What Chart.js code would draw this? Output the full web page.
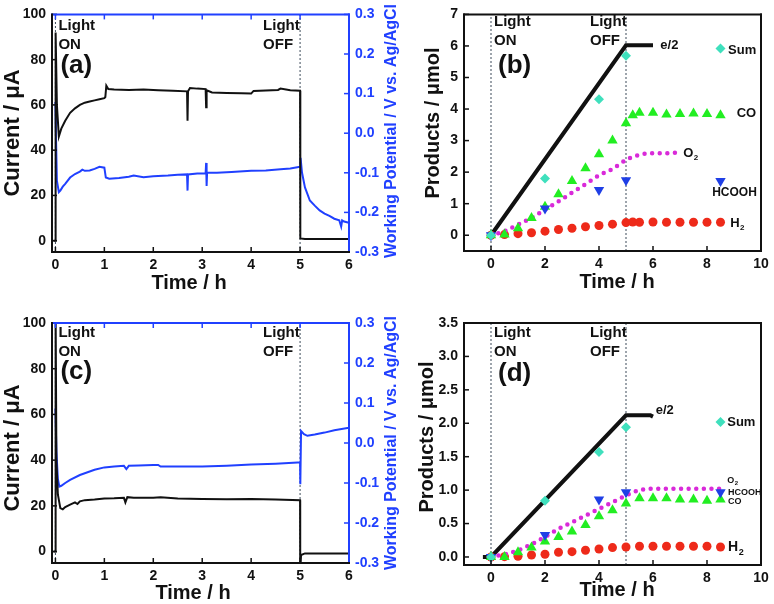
<!DOCTYPE html>
<html lang="en">
<head>
<meta charset="UTF-8">
<title>Photoelectrolysis current and products</title>
<script src="https://cdn.jsdelivr.net/npm/chart.js"></script>
<style>
    body { margin: 0; background: #fff; }
    #wrap { position: relative; width: 774px; height: 604px; overflow: hidden; }
    canvas { position: absolute; }
</style>
</head>
<body>
<div id="wrap">
    <canvas id="pa" width="404" height="300" style="left:0;top:0"></canvas>
    <canvas id="pc" width="404" height="304" style="left:0;top:300px"></canvas>
    <canvas id="pb" width="384" height="300" style="left:390px;top:0"></canvas>
    <canvas id="pd" width="384" height="304" style="left:390px;top:300px"></canvas>
</div>
<script>
// light switched on at 0 h, off at 5 h
const lightTimes = [0, 5];

// (a) current (uA) and working potential (V vs Ag/AgCl)
const timeCurA = [-0.04, 0, 0.004, 0.03, 0.07, 0.12, 0.2, 0.3, 0.4, 0.5, 0.6, 0.7, 0.8, 0.9, 1.0, 1.02, 1.04, 1.08, 1.2, 1.5,
    1.8, 2.1, 2.4, 2.69, 2.7, 2.71, 2.75, 2.9, 3.07, 3.08, 3.09, 3.2, 3.5, 3.8, 4.0, 4.05, 4.3, 4.55, 4.6, 4.8, 5.0, 5.005, 5.1, 5.5, 6.0];
const currentA = [0, 0, 92, 60, 46, 49.5, 53, 56.5, 58.5, 60, 61, 61.5, 62, 62.5, 63, 63.5, 68.5, 67, 66.8, 66.6,
    66.8, 66.5, 66.3, 66, 53, 66, 67.5, 67.2, 67, 59, 66.5, 65.5, 65.3, 65.2, 65, 66.2, 66.4, 66.6, 67.2, 66.5, 66.3, 1, 0.8, 0.8, 0.8];
const timePotA = [0, 0.01, 0.03, 0.07, 0.1, 0.15, 0.2, 0.3, 0.4, 0.5, 0.55, 0.6, 0.7, 0.8, 0.9, 1.0, 1.03, 1.1, 1.3, 1.5,
    1.6, 1.8, 2.0, 2.3, 2.5, 2.69, 2.7, 2.71, 2.9, 3.07, 3.08, 3.09, 3.1, 3.3, 3.6, 4.0, 4.3, 4.6, 4.8, 5.0,
    5.01, 5.04, 5.1, 5.2, 5.3, 5.4, 5.5, 5.6, 5.7, 5.8, 5.84, 5.86, 5.9, 6.0];
const potentialA = [0.079, 0.0, -0.12, -0.149, -0.145, -0.135, -0.128, -0.112, -0.103, -0.097, -0.092, -0.095, -0.094, -0.09, -0.085, -0.087, -0.112, -0.115, -0.113, -0.11,
    -0.107, -0.111, -0.109, -0.107, -0.105, -0.104, -0.145, -0.104, -0.102, -0.101, -0.075, -0.133, -0.1, -0.1, -0.098, -0.095, -0.094, -0.091, -0.089, -0.085,
    -0.062, -0.1, -0.137, -0.17, -0.183, -0.195, -0.203, -0.209, -0.216, -0.22, -0.236, -0.22, -0.223, -0.226];

// (c) current and potential, second electrode
const timeCurC = [-0.04, 0, 0.004, 0.02, 0.05, 0.1, 0.15, 0.2, 0.3, 0.4, 0.45, 0.5, 0.6, 0.8, 1.0, 1.2, 1.4, 1.43, 1.47, 1.6,
    2.0, 2.15, 2.5, 3.0, 3.5, 4.0, 4.5, 5.0, 5.003, 5.02, 5.1, 6.0];
const currentC = [0, 0, 105, 40, 25, 19, 18.5, 19.5, 20.5, 21.5, 20.8, 22, 22.5, 22.8, 23.2, 23.3, 23.5, 21.5, 23.8, 23.5,
    23.5, 23.8, 23.2, 23, 22.9, 23, 22.8, 22.5, -9, -1.5, -0.8, -0.8];
const timePotC = [0, 0.02, 0.05, 0.08, 0.12, 0.2, 0.3, 0.5, 0.8, 1.0, 1.2, 1.4, 1.45, 1.5, 1.7, 2.0, 2.1, 2.15, 2.5, 3.0,
    3.5, 4.0, 4.5, 4.95, 5.0, 5.005, 5.02, 5.08, 5.15, 5.3, 5.5, 5.7, 6.0];
const potentialC = [0.086, -0.02, -0.09, -0.109, -0.107, -0.1, -0.092, -0.08, -0.067, -0.061, -0.059, -0.057, -0.065, -0.057, -0.056, -0.055, -0.055, -0.059, -0.059, -0.059,
    -0.057, -0.054, -0.052, -0.049, -0.049, -0.103, 0.03, 0.022, 0.018, 0.021, 0.026, 0.032, 0.038];

// (b) products (umol)
const e2TimeB = [0, 5, 6];
const e2B = [0, 6.02, 6.02];
const sumTimeB = [0, 2, 4, 5, 8.5];
const sumB = [0, 1.8, 4.31, 5.69, 5.92];
const hcoohB = [0, 0.85, 1.43, 1.74, 1.72];
const coTimeB = [0, 0.5, 1, 1.5, 2, 2.5, 3, 3.5, 4, 4.5, 5, 5.25, 5.5, 6, 6.5, 7, 7.5, 8, 8.5];
const coB = [0, 0.02, 0.22, 0.55, 0.9, 1.3, 1.72, 2.12, 2.57, 3.0, 3.55, 3.8, 3.88, 3.88, 3.83, 3.84, 3.86, 3.84, 3.8];
const h2B = [0, 0.02, 0.05, 0.08, 0.13, 0.18, 0.22, 0.27, 0.31, 0.35, 0.4, 0.42, 0.41, 0.42, 0.41, 0.41, 0.41, 0.41, 0.41];
const o2TimeB = [0, 0.5, 1, 1.5, 2, 2.5, 3, 3.5, 4, 4.5, 5, 5.5, 6, 6.5, 7];
const o2B = [0, 0.13, 0.34, 0.55, 0.81, 1.07, 1.35, 1.62, 1.9, 2.1, 2.39, 2.55, 2.6, 2.6, 2.63];

// (d) products (umol)
const e2TimeD = [-0.3, 0, 5, 5.9, 6.0];
const e2D = [0, 0, 2.12, 2.12, 2.1];
const sumTimeD = [0, 2, 4, 5, 8.5];
const sumD = [0, 0.84, 1.57, 1.94, 2.02];
const hcoohD = [0, 0.33, 0.86, 0.97, 0.97];
const coTimeD = [0, 0.5, 1, 1.5, 2, 2.5, 3, 3.5, 4, 4.5, 5, 5.5, 6, 6.5, 7, 7.5, 8, 8.5];
const coD = [0, 0, 0.07, 0.14, 0.23, 0.3, 0.38, 0.48, 0.61, 0.7, 0.8, 0.88, 0.88, 0.88, 0.86, 0.86, 0.84, 0.86];
const h2D = [0, 0.005, 0.01, 0.03, 0.04, 0.07, 0.08, 0.1, 0.12, 0.14, 0.15, 0.16, 0.16, 0.16, 0.16, 0.16, 0.16, 0.15];
const o2TimeD = [0, 0.5, 1, 1.5, 2, 2.5, 3, 3.5, 4, 4.5, 5, 5.5, 6, 7, 8, 8.5];
const o2D = [0, 0.04, 0.1, 0.19, 0.3, 0.42, 0.52, 0.62, 0.72, 0.82, 0.92, 1.0, 1.02, 1.02, 1.02, 1.02];

// tick labels
const hourTicks = [0, 1, 2, 3, 4, 5, 6];
const currentTicks = [0, 20, 40, 60, 80, 100];
const potentialTicks = [-0.3, -0.2, -0.1, 0.0, 0.1, 0.2, 0.3];
const productHourTicks = [0, 2, 4, 6, 8, 10];
const productTicksB = [0, 1, 2, 3, 4, 5, 6, 7];
const productTicksD = [0, 0.5, 1.0, 1.5, 2.0, 2.5, 3.0, 3.5];

const BLUE = '#2040ff';
const BLACK = '#111';
const FAM = '"Liberation Sans", Arial, sans-serif';
const font = sz => `bold ${sz}px ${FAM}`;
const tickFont = { family: FAM, size: 14, weight: 'bold' };

const pts = (xs, ys) => xs.map((x, i) => ({ x: x, y: ys[i] }));

function vline(t, lo, hi) {
    return { data: [{ x: t, y: lo }, { x: t, y: hi }], borderColor: '#3c4b5a', borderWidth: 1,
        borderDash: [2, 2], pointRadius: 0, yAxisID: 'y' };
}

function marks(data, style, color, radius, rot) {
    return { data: data, showLine: false, pointStyle: style, pointRadius: radius, pointRotation: rot || 0,
        pointBackgroundColor: color, pointBorderWidth: 0, borderColor: color };
}

// draws frame, inward ticks, notes and axis titles
function decor(p) {
    return {
        id: 'decor',
        afterDraw(chart) {
            const ctx = chart.ctx, a = chart.chartArea, s = chart.scales;
            ctx.save();
            const seg = (color, w, x1, y1, x2, y2) => {
                ctx.strokeStyle = color; ctx.lineWidth = w;
                ctx.beginPath(); ctx.moveTo(x1, y1); ctx.lineTo(x2, y2); ctx.stroke();
            };
            s.x.ticks.forEach(t => {
                const x = s.x.getPixelForValue(t.value);
                seg(p.bottom, 1.5, x, a.bottom, x, a.bottom - 5);
                if (p.topTicks) seg(p.top, 1.5, x, a.top, x, a.top + 5);
            });
            s.y.ticks.forEach(t => {
                const y = s.y.getPixelForValue(t.value);
                seg(p.left, 1.5, a.left, y, a.left + 5, y);
            });
            if (s.y2) s.y2.ticks.forEach(t => {
                const y = s.y2.getPixelForValue(t.value);
                seg(p.right, 1.5, a.right, y, a.right - 5, y);
            });
            ctx.lineCap = 'square';
            seg(p.top, 2, a.left, a.top, a.right, a.top);
            seg(p.right, 2, a.right, a.top, a.right, a.bottom);
            seg(p.bottom, 2, a.left, a.bottom, a.right, a.bottom);
            seg(p.left, 2, a.left, a.top, a.left, a.bottom);
            ctx.lineCap = 'butt';

            ctx.textAlign = 'left';
            ctx.textBaseline = 'middle';
            p.notes.forEach(n => {
                const x = s.x.getPixelForValue(n.x) + (n.dx || 0);
                const y = n.top != null ? a.top + n.top : s[n.ax || 'y'].getPixelForValue(n.y);
                ctx.font = font(n.size);
                ctx.fillStyle = n.color || BLACK;
                ctx.fillText(n.t, x, y);
                if (n.sub) {
                    const w = ctx.measureText(n.t).width;
                    ctx.font = font(Math.round(n.size * 0.65));
                    ctx.fillText(n.sub, x + w + 0.5, y + n.size * 0.32);
                }
            });
            p.titles.forEach(t => {
                ctx.save();
                ctx.translate(t.x, t.y);
                if (t.rot) ctx.rotate(-Math.PI / 2);
                ctx.font = font(t.size);
                ctx.fillStyle = t.color || BLACK;
                ctx.textAlign = 'center';
                ctx.fillText(t.t, 0, 0);
                ctx.restore();
            });
            ctx.restore();
        }
    };
}

function panel(id, cfg) {
    const el = document.getElementById(id);
    const W = el.width, H = el.height, box = cfg.box;
    const axisBase = {
        type: 'linear',
        grid: { display: false, drawTicks: false },
        border: { display: false }
    };
    const scales = {
        x: Object.assign({}, axisBase, {
            min: cfg.xMin, max: cfg.xMax,
            ticks: { font: tickFont, color: BLACK, padding: 5, maxRotation: 0, autoSkip: false },
            afterBuildTicks: sc => { sc.ticks = cfg.xTicks.map(v => ({ value: v })); },
            afterFit: sc => { sc.height = H - box[3]; }
        }),
        y: Object.assign({}, axisBase, {
            position: 'left', min: cfg.yMin, max: cfg.yMax,
            ticks: { font: tickFont, color: BLACK, padding: 6, autoSkip: false, callback: cfg.yFmt },
            afterBuildTicks: sc => { sc.ticks = cfg.yTicks.map(v => ({ value: v })); },
            afterFit: sc => { sc.width = box[0]; }
        })
    };
    if (cfg.y2Ticks) {
        scales.y2 = Object.assign({}, axisBase, {
            position: 'right', min: cfg.y2Min, max: cfg.y2Max,
            ticks: { font: tickFont, color: BLUE, padding: 6, autoSkip: false, callback: v => v.toFixed(1) },
            afterBuildTicks: sc => { sc.ticks = cfg.y2Ticks.map(v => ({ value: v })); },
            afterFit: sc => { sc.width = W - box[2]; }
        });
    }
    return new Chart(el, {
        type: 'line',
        data: { datasets: cfg.datasets },
        options: {
            responsive: false,
            animation: false,
            events: [],
            layout: { padding: { top: box[1], left: 0, bottom: 0, right: cfg.y2Ticks ? 0 : W - box[2] } },
            elements: { line: { tension: 0 } },
            scales: scales,
            plugins: { legend: { display: false }, tooltip: { enabled: false } }
        },
        plugins: [decor(cfg.decor)]
    });
}

function currentPanel(id, letter, box, tc, cur, tp, pot, titles) {
    const off = box[1] === 11 ? 0 : -1;
    panel(id, {
        box: box,
        xMin: -0.07, xMax: 6, xTicks: hourTicks,
        yMin: -5, yMax: 100, yTicks: currentTicks, yFmt: v => String(v),
        y2Min: -0.3, y2Max: 0.3, y2Ticks: potentialTicks,
        datasets: [
            { data: pts(tc, cur), borderColor: BLACK, borderWidth: 2, pointRadius: 0, yAxisID: 'y' },
            { data: pts(tp, pot), borderColor: BLUE, borderWidth: 2, pointRadius: 0, yAxisID: 'y2' },
            vline(lightTimes[0], -5, 100),
            vline(lightTimes[1], -5, 100)
        ],
        decor: {
            left: BLACK, bottom: BLACK, top: BLUE, right: BLUE, topTicks: true,
            notes: [
                { t: 'Light', x: lightTimes[0], dx: 3, top: 11 + off, size: 15 },
                { t: 'ON', x: lightTimes[0], dx: 3, top: 30 + off, size: 15 },
                { t: '(' + letter + ')', x: lightTimes[0], dx: 5, top: 51 + 2 * off, size: 26 },
                { t: 'Light', x: lightTimes[1], dx: -37, top: 11 + off, size: 15 },
                { t: 'OFF', x: lightTimes[1], dx: -37, top: 30 + off, size: 15 }
            ],
            titles: titles
        }
    });
}

function productPanel(id, cfg) {
    panel(id, {
        box: cfg.box,
        xMin: -1, xMax: 10, xTicks: productHourTicks,
        yMin: cfg.yMin, yMax: cfg.yMax, yTicks: cfg.yTicks, yFmt: cfg.yFmt,
        datasets: [
            marks(pts(cfg.sumTime, cfg.sum), 'rectRot', '#3fe0bd', 5),
            marks(pts(cfg.sumTime, cfg.hcooh), 'triangle', '#1f3fe6', 6, 180),
            marks(pts(cfg.coTime, cfg.co), 'triangle', '#22ee22', 6),
            { data: pts(cfg.o2Time, cfg.o2), borderColor: '#d92ad9', borderWidth: 4.5, borderDash: [0, 7.6],
              borderCapStyle: 'round', pointRadius: 0, cubicInterpolationMode: 'monotone' },
            marks(pts(cfg.coTime, cfg.h2), 'circle', '#ee2a1a', 4.5),
            { data: pts(cfg.e2Time, cfg.e2), borderColor: BLACK, borderWidth: 4, pointRadius: 0 },
            vline(lightTimes[0], cfg.yMin, cfg.yMax),
            vline(lightTimes[1], cfg.yMin, cfg.yMax)
        ],
        decor: { left: BLACK, bottom: BLACK, top: BLACK, right: BLACK, topTicks: false,
                 notes: cfg.notes, titles: cfg.titles }
    });
}

currentPanel('pa', 'a', [52, 11, 349, 252], timeCurA, currentA, timePotA, potentialA, [
    { t: 'Current / μA', x: 13, y: 133, size: 22, rot: true },
    { t: 'Time / h', x: 189, y: 283, size: 20 },
    { t: 'Working Potential / V vs. Ag/AgCl', x: 392, y: 131, size: 16, rot: true, color: BLUE }
]);

currentPanel('pc', 'c', [52, 23, 349, 263], timeCurC, currentC, timePotC, potentialC, [
    { t: 'Current / μA', x: 13, y: 148, size: 22, rot: true },
    { t: 'Time / h', x: 193, y: 293, size: 20 },
    { t: 'Working Potential / V vs. Ag/AgCl', x: 392, y: 143, size: 16, rot: true, color: BLUE }
]);

productPanel('pb', {
    box: [74, 12, 371, 251], yMin: -0.5, yMax: 7, yTicks: productTicksB, yFmt: v => String(v),
    e2Time: e2TimeB, e2: e2B, sumTime: sumTimeB, sum: sumB, hcooh: hcoohB,
    coTime: coTimeB, co: coB, h2: h2B, o2Time: o2TimeB, o2: o2B,
    notes: [
        { t: 'Light', x: lightTimes[0], dx: 3, top: 7, size: 15 },
        { t: 'ON', x: lightTimes[0], dx: 3, top: 26, size: 15 },
        { t: '(b)', x: lightTimes[0], dx: 7, top: 51, size: 26 },
        { t: 'Light', x: lightTimes[1], dx: -36, top: 7, size: 15 },
        { t: 'OFF', x: lightTimes[1], dx: -36, top: 26, size: 15 },
        { t: 'e/2', x: 6.27, y: 6.03, size: 13 },
        { t: 'Sum', x: 8.78, y: 5.87, size: 13 },
        { t: 'CO', x: 9.1, y: 3.85, size: 13 },
        { t: 'O', x: 7.12, y: 2.58, size: 13, sub: '2' },
        { t: 'HCOOH', x: 8.19, y: 1.35, size: 12 },
        { t: 'H', x: 8.86, y: 0.38, size: 13, sub: '2' }
    ],
    titles: [
        { t: 'Products / μmol', x: 43, y: 123, size: 20, rot: true },
        { t: 'Time / h', x: 227, y: 282, size: 20 }
    ]
});

productPanel('pd', {
    box: [74, 23, 371, 265], yMin: -0.12, yMax: 3.5, yTicks: productTicksD, yFmt: v => v.toFixed(1),
    e2Time: e2TimeD, e2: e2D, sumTime: sumTimeD, sum: sumD, hcooh: hcoohD,
    coTime: coTimeD, co: coD, h2: h2D, o2Time: o2TimeD, o2: o2D,
    notes: [
        { t: 'Light', x: lightTimes[0], dx: 3, top: 10, size: 15 },
        { t: 'ON', x: lightTimes[0], dx: 3, top: 29, size: 15 },
        { t: '(d)', x: lightTimes[0], dx: 7, top: 51, size: 26 },
        { t: 'Light', x: lightTimes[1], dx: -36, top: 10, size: 15 },
        { t: 'OFF', x: lightTimes[1], dx: -36, top: 29, size: 15 },
        { t: 'e/2', x: 6.1, y: 2.19, size: 13 },
        { t: 'Sum', x: 8.75, y: 2.02, size: 13 },
        { t: 'O', x: 8.75, y: 1.14, size: 9, sub: '2' },
        { t: 'HCOOH', x: 8.78, y: 0.96, size: 9 },
        { t: 'CO', x: 8.78, y: 0.83, size: 9 },
        { t: 'H', x: 8.78, y: 0.14, size: 14, sub: '2' }
    ],
    titles: [
        { t: 'Products / μmol', x: 37, y: 137, size: 20, rot: true },
        { t: 'Time / h', x: 227, y: 290, size: 20 }
    ]
});
</script>
</body>
</html>
